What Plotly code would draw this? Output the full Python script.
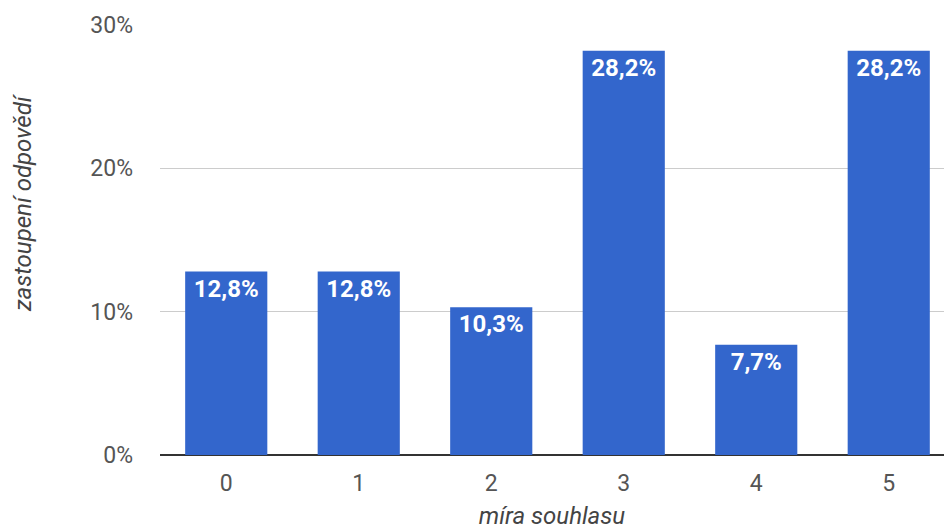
import plotly.graph_objects as go

# Response shares per agreement level
categories = [0, 1, 2, 3, 4, 5]
shares = [12.8, 12.8, 10.3, 28.2, 7.7, 28.2]
y_ticks = [0, 10, 20, 30]

labels = [f"{v:.1f}%".replace(".", ",") for v in shares]

fig = go.Figure(
    go.Bar(
        x=categories,
        y=shares,
        text=labels,
        textposition="inside",
        insidetextanchor="end",
        textangle=0,
        textfont=dict(family="Roboto", size=24, color="white", weight="bold"),
        marker=dict(color="#3366CC", line=dict(width=0)),
        cliponaxis=False,
    )
)

fig.update_layout(
    width=944,
    height=530,
    margin=dict(l=160, r=0, t=25, b=75),
    paper_bgcolor="white",
    plot_bgcolor="white",
    bargap=0.38,
    showlegend=False,
    font=dict(family="Roboto", size=23, color="#555555"),
    uniformtext=dict(mode=False),
)

fig.update_xaxes(
    range=[-0.5, 5.417],
    tickmode="array",
    tickvals=categories,
    ticktext=[str(c) for c in categories],
    showgrid=False,
    zeroline=False,
    showline=False,
    ticks="",
    ticklabelstandoff=12,
    tickfont=dict(size=23, color="#555555"),
    title=dict(
        text="míra souhlasu",
        font=dict(size=24, color="#444444", style="italic"),
        standoff=13,
    ),
)

fig.update_yaxes(
    range=[0, 30],
    tickmode="array",
    tickvals=y_ticks,
    ticktext=[f"{v}%" for v in y_ticks],
    showgrid=True,
    gridcolor="#CCCCCC",
    gridwidth=1,
    zeroline=True,
    zerolinecolor="#333333",
    zerolinewidth=1.5,
    showline=False,
    ticks="",
    ticklabelstandoff=26,
    tickfont=dict(size=23, color="#555555"),
)

# Vertical y-axis caption placed as an annotation
fig.add_annotation(
    text="zastoupení odpovědí",
    xref="paper",
    yref="paper",
    x=0,
    y=0.586,
    xshift=-137,
    xanchor="center",
    yanchor="middle",
    textangle=-90,
    showarrow=False,
    font=dict(size=24, color="#444444", style="italic"),
)

fig.write_html("out.html")
